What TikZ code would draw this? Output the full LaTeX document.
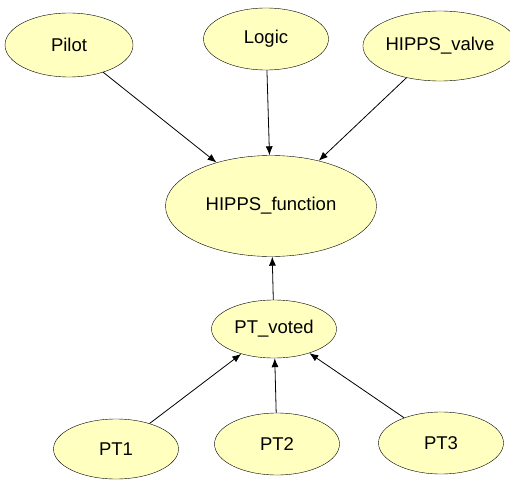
\documentclass[tikz,border=0pt]{standalone}
\usepackage{fontspec}
\setmainfont{Liberation Sans}
\usetikzlibrary{shapes.geometric,arrows.meta}
\definecolor{nodefill}{RGB}{255,255,192}
\begin{document}
\begin{tikzpicture}[x=1pt,y=-1pt,
				every node/.style={ellipse,draw,fill=nodefill,inner sep=0pt,font=\fontsize{18.5}{20}\selectfont},
				small/.style={minimum width=125pt,minimum height=62pt},
				big/.style={minimum width=211pt,minimum height=101pt},
				link/.style={-{Latex[length=9pt,width=7pt]},line width=0.8pt}]
\useasboundingbox (0,0) rectangle (510,481);
\node[small,minimum width=128pt,minimum height=64pt] (pilot) at (69,45) {Pilot};
\node[small] (logic) at (266,39) {Logic};
\node[small,minimum width=130pt,minimum height=70pt] (valve) at (440,46) {HIPPS\_valve};
\node[big] (func) at (271,206) {HIPPS\_function};
\node[small,minimum height=58pt] (voted) at (274,329) {PT\_voted};
\node[small,minimum height=60pt] (pt1) at (116,449) {PT1};
\node[small] (pt2) at (277,444) {PT2};
\node[small] (pt3) at (441,443) {PT3};
\draw[link] (pilot) -- (func);
\draw[link] (logic) -- (func);
\draw[link] (valve) -- (func);
\draw[link] (voted) -- (func);
\draw[link] (pt1) -- (voted);
\draw[link] (pt2) -- (voted);
\draw[link] (pt3) -- (voted);
\end{tikzpicture}
\end{document}
